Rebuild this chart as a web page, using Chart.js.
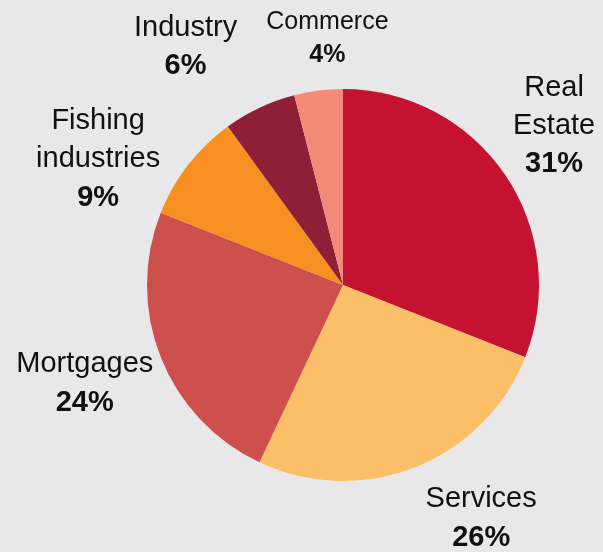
<!DOCTYPE html>
<html>
<head>
<meta charset="utf-8">
<script src="https://cdn.jsdelivr.net/npm/chart.js@4/dist/chart.umd.min.js"></script>
<style>
  html, body { margin: 0; padding: 0; background: #e8e8e8; }
  #pie { display: block; }
</style>
</head>
<body>
<canvas id="pie" width="603" height="552"></canvas>
<script>
const categories = ['Real\nEstate', 'Services', 'Mortgages', 'Fishing\nindustries', 'Industry', 'Commerce'];
const shares = [31, 26, 24, 9, 6, 4];
const sliceColors = ['#c41230', '#fbbf67', '#cd504c', '#f79020', '#8e1f37', '#f48977'];

// label nudges from the slice's outer midpoint, and font size per label
const labelOffsets = [[49, -51], [66, 49], [-76, 24], [-90, -8], [-74, -63], [9, -54]];
const labelSizes = [29, 29, 29, 29, 29, 25];

const outsideLabels = {
  id: 'outsideLabels',
  afterDatasetsDraw(chart) {
    const c = chart.ctx;
    const arcs = chart.getDatasetMeta(0).data;
    c.save();
    c.fillStyle = '#111';
    c.textAlign = 'center';
    c.textBaseline = 'alphabetic';
    arcs.forEach((arc, i) => {
      const p = arc.getProps(['x', 'y', 'startAngle', 'endAngle', 'outerRadius'], true);
      const mid = (p.startAngle + p.endAngle) / 2;
      const cx = p.x + Math.cos(mid) * p.outerRadius + labelOffsets[i][0];
      const cy = p.y + Math.sin(mid) * p.outerRadius + labelOffsets[i][1];
      const size = labelSizes[i];
      const lh = size * 1.32;
      const cap = size * 0.716;
      const lines = categories[i].split('\n');
      const n = lines.length + 1;
      let y = cy - ((n - 1) * lh + cap) / 2 + cap;
      c.font = size + 'px "Liberation Sans", Arial, sans-serif';
      lines.forEach(t => { c.fillText(t, cx, y); y += lh; });
      c.font = 'bold ' + size + 'px "Liberation Sans", Arial, sans-serif';
      c.fillText(shares[i] + '%', cx, y);
    });
    c.restore();
  }
};

new Chart(document.getElementById('pie').getContext('2d'), {
  type: 'pie',
  data: {
    labels: categories,
    datasets: [{
      data: shares,
      backgroundColor: sliceColors,
      borderWidth: 0
    }]
  },
  options: {
    responsive: false,
    animation: false,
    layout: { padding: { top: 89, bottom: 71, left: 147, right: 64 } },
    plugins: {
      legend: { display: false },
      tooltip: { enabled: false }
    }
  },
  plugins: [outsideLabels]
});
</script>
</body>
</html>
